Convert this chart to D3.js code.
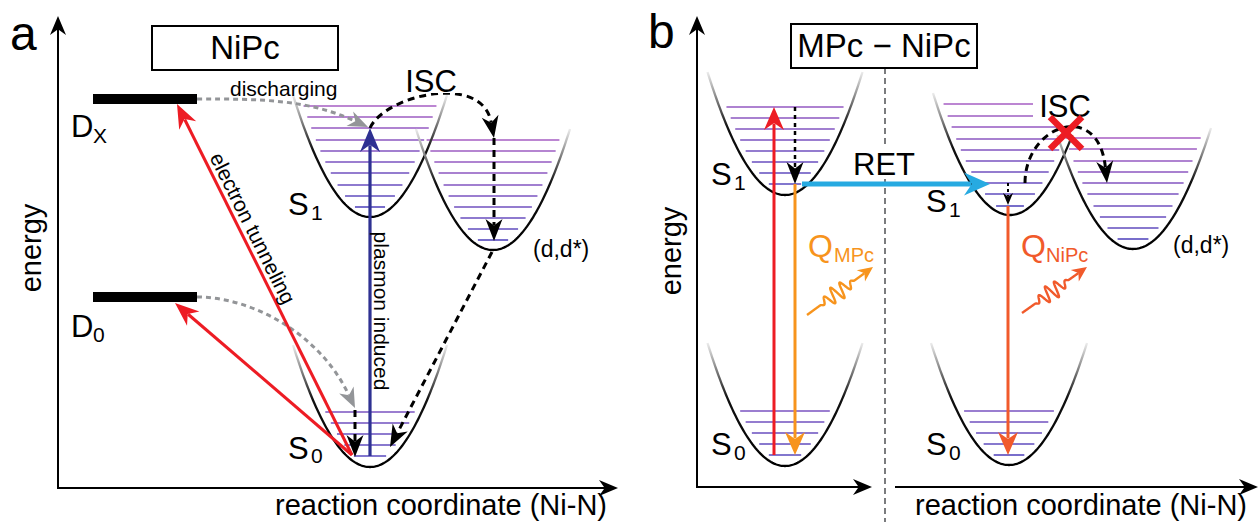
<!DOCTYPE html>
<html><head><meta charset="utf-8">
<script src="https://cdn.jsdelivr.net/npm/d3@7"></script>
<style>
html,body{margin:0;padding:0;background:#fff;}
svg{display:block;font-family:"Liberation Sans",Arial,sans-serif;}
</style></head><body>
<svg id="fig" width="1259" height="522"></svg>
<script>
// ---------- panel a : NiPc (reaction coordinate / energy in arbitrary units) ----------
const wellsA = [
  {name: "S1", cx: 31.2, e0: 27.1, eTop: 39.3, hw: 7.7},
  {name: "dd", cx: 43.5, e0: 23.8, eTop: 35.9, hw: 7.7},
  {name: "S0", cx: 31.2, e0: 2.1,  eTop: 14.3, hw: 7.7}
];
const levelsA_S1 = [38.2, 37.1, 36.0, 34.8, 33.7, 32.6, 31.5, 30.3, 29.2, 28.1];
const levelsA_dd = [34.8, 33.7, 32.6, 31.5, 30.3, 29.2, 28.1, 27.0, 25.9, 24.8];
const levelsA_S0 = [7.6, 6.5, 5.4, 4.3, 3.2];
const donorsA = [
  {name: "X", energy: 38.9, x0: 3.5, x1: 13.9},
  {name: "0", energy: 19.1, x0: 3.5, x1: 13.9}
];
const arrowsA = [
  {from: [29.4, 3.3],  to: [11.9, 38.4], kind: "tunnel"},
  {from: [29.4, 3.3],  to: [11.7, 18.5], kind: "tunnel"},
  {from: [31.2, 3.2],  to: [31.2, 36.0], kind: "plasmon"},
  {from: [29.7, 7.8],  to: [29.7, 3.1],  kind: "relax"},
  {from: [43.6, 35.0], to: [43.6, 24.7], kind: "relax"},
  {from: [43.4, 23.6], to: [33.2, 4.1],  kind: "relax"}
];
const curvesA = [
  {pts: [[13.9, 38.9], [20.2, 38.9], [26.2, 38.3], [31.0, 36.1]], kind: "discharge"},
  {pts: [[13.9, 19.1], [19.2, 19.1], [26.7, 14.3], [29.7, 8.0]],  kind: "discharge"},
  {pts: [[31.2, 36.0], [32.7, 39.3], [42.7, 40.0], [43.6, 35.0]], kind: "relax"}
];

// ---------- panel b : MPc - NiPc ----------
const wellsB = [
  {name: "S1m", cx: 8.8,  e0: 29.2, eTop: 41.5, hw: 7.75},
  {name: "S0m", cx: 8.8,  e0: 2.1,  eTop: 14.4, hw: 7.75},
  {name: "S1n", cx: 31.3, e0: 27.2, eTop: 39.4, hw: 7.7, rightTop: 35.2},
  {name: "ddn", cx: 43.6, e0: 23.8, eTop: 35.9, hw: 7.8, leftTop: 35.2},
  {name: "S0n", cx: 31.2, e0: 2.2,  eTop: 14.4, hw: 7.8}
];
const levelsB_S1m = [38.0, 36.9, 35.8, 34.7, 33.6, 32.5, 31.4, 30.3];
const levelsB_S0m = [7.6, 6.5, 5.4, 4.3, 3.2];
const levelsB_S1n = [38.3, 37.1, 36.0, 34.8, 33.7, 32.6, 31.5, 30.4, 29.3, 28.1];
const levelsB_ddn = [34.9, 33.8, 32.6, 31.5, 30.4, 29.3, 28.1, 27.0, 25.9, 24.8];
const levelsB_S0n = [7.6, 6.5, 5.4, 4.3, 3.2];
const arrowsB = [
  {from: [7.7, 3.2],   to: [7.7, 38.0],  kind: "absorb"},
  {from: [9.8, 38.0],  to: [9.8, 30.3],  kind: "vib"},
  {from: [9.8, 30.3],  to: [9.8, 3.2],   kind: "emitM"},
  {from: [10.5, 30.3], to: [29.3, 30.3], kind: "ret"},
  {from: [31.1, 30.4], to: [31.1, 28.2], kind: "vibSmall"},
  {from: [31.1, 28.1], to: [31.1, 3.2],  kind: "emitN"}
];
const curvesB = [
  {pts: [[32.8, 30.4], [32.8, 36.2], [40.3, 37.2], [41.0, 30.4]], kind: "relax"}
];
const wavesB = [
  {from: [11.0, 17.2], to: [17.6, 22.0], kind: "emitM"},
  {from: [32.5, 17.4], to: [39.0, 22.0], kind: "emitN"}
];
const blockedB = [{at: [36.9, 35.4], size: 1.6}];
const splitB = 18.8;      // reaction-coordinate position of the MPc | NiPc divider
const rightAxisB = 19.8;  // start of the NiPc reaction-coordinate axis

// ---------- styles ----------
const styles = {
  tunnel:    {color: "#ed1c24", width: 3,   head: [24, 9.5]},
  plasmon:   {color: "#2e3192", width: 3.2, head: [24, 10]},
  relax:     {color: "#000",    width: 3,   head: [22, 8.5], dash: "7,5"},
  discharge: {color: "#939598", width: 3,   head: [20, 8],   dash: "5,4"},
  absorb:    {color: "#ed1c24", width: 3,   head: [23, 10]},
  vib:       {color: "#000",    width: 2.5, head: [22, 8.5], dash: "4,4"},
  vibSmall:  {color: "#000",    width: 2,   head: [12, 5],   dash: "3,3"},
  emitM:     {color: "#f7941d", width: 3,   head: [23, 10]},
  emitN:     {color: "#f15a2b", width: 3,   head: [23, 10]},
  ret:       {color: "#27aae1", width: 5,   head: [26, 11.5]}
};
const levelColor = d3.interpolateRgb("#4f48bd", "#aa5fc3");

const svg = d3.select("#fig");
const defs = svg.append("defs");

// scales
const xA = d3.scaleLinear().domain([0, 56]).range([58, 618]);
const yA = d3.scaleLinear().domain([0, 47.2]).range([488, 16]);
const xB = d3.scaleLinear().domain([0, 56.1]).range([697, 1258]);
const yB = d3.scaleLinear().domain([0, 47.1]).range([487, 16]);

function head(g, tip, ang, len, hw, color) {
  const dx = Math.cos(ang), dy = Math.sin(ang), nx = -dy, ny = dx;
  const bx = tip[0] - len * dx, by = tip[1] - len * dy;
  const mx = tip[0] - len * 0.7 * dx, my = tip[1] - len * 0.7 * dy;
  g.append("path")
    .attr("d", `M${tip[0]},${tip[1]}L${bx + hw * nx},${by + hw * ny}L${mx},${my}L${bx - hw * nx},${by - hw * ny}Z`)
    .attr("fill", color);
}

function straightArrow(g, p0, p1, st) {
  const ang = Math.atan2(p1[1] - p0[1], p1[0] - p0[0]);
  const cut = st.head[0] * 0.72;
  const end = [p1[0] - cut * Math.cos(ang), p1[1] - cut * Math.sin(ang)];
  g.append("line").attr("x1", p0[0]).attr("y1", p0[1]).attr("x2", end[0]).attr("y2", end[1])
    .attr("stroke", st.color).attr("stroke-width", st.width)
    .attr("stroke-dasharray", st.dash || null);
  head(g, p1, ang, st.head[0], st.head[1], st.color);
}

function curveArrow(g, pts, st) {
  const [p0, c1, c2, p1] = pts;
  const ang = Math.atan2(p1[1] - c2[1], p1[0] - c2[0]);
  const cut = st.head[0] * 0.72, sx = cut * Math.cos(ang), sy = cut * Math.sin(ang);
  const p = d3.path();
  p.moveTo(p0[0], p0[1]);
  p.bezierCurveTo(c1[0], c1[1], c2[0] - sx, c2[1] - sy, p1[0] - sx, p1[1] - sy);
  g.append("path").attr("d", p.toString()).attr("fill", "none")
    .attr("stroke", st.color).attr("stroke-width", st.width)
    .attr("stroke-dasharray", st.dash || null);
  head(g, p1, ang, st.head[0], st.head[1], st.color);
}

function waveArrow(g, p0, p1, st) {
  const ang = Math.atan2(p1[1] - p0[1], p1[0] - p0[0]);
  const L = Math.hypot(p1[0] - p0[0], p1[1] - p0[1]);
  const hl = 15, body = L - hl * 0.7;
  const ux = Math.cos(ang), uy = Math.sin(ang), nx = -uy, ny = ux;
  const pts = d3.range(0, 1.0001, 0.004).map(t => {
    const s = t * body;
    const a0 = 0.20 * L, a1 = 0.72 * L;
    let off = 0;
    if (s > a0 && s < a1) {
      const u = (s - a0) / (a1 - a0);
      off = 8.5 * Math.sin(Math.PI * u) * Math.sin(2 * Math.PI * 4 * u);
    }
    return [p0[0] + s * ux + off * nx, p0[1] + s * uy + off * ny];
  });
  g.append("path").attr("d", d3.line()(pts)).attr("fill", "none")
    .attr("stroke", st.color).attr("stroke-width", 2.4).attr("stroke-linejoin", "round");
  head(g, p1, ang, hl, 7, st.color);
}

function wellCurve(g, w, x, y) {
  const id = "grad-" + w.name;
  const gr = defs.append("linearGradient").attr("id", id)
    .attr("gradientUnits", "userSpaceOnUse")
    .attr("x1", 0).attr("x2", 0).attr("y1", y(w.eTop)).attr("y2", y(w.e0));
  gr.append("stop").attr("offset", 0).attr("stop-color", "#ececec");
  gr.append("stop").attr("offset", 0.45).attr("stop-color", "#111");
  gr.append("stop").attr("offset", 1).attr("stop-color", "#000");
  const depth = w.eTop - w.e0;
  const lim = e => w.hw * Math.sqrt((Math.min(e, w.eTop) - w.e0) / depth);
  const xl = w.cx - lim(w.leftTop || w.eTop), xr = w.cx + lim(w.rightTop || w.eTop);
  const pts = d3.range(0, 1.0001, 0.01).map(t => {
    const xv = xl + (xr - xl) * t;
    const r = (xv - w.cx) / w.hw;
    return [xv, w.e0 + depth * r * r];
  });
  g.append("path").attr("d", d3.line().x(d => x(d[0])).y(d => y(d[1]))(pts))
    .attr("fill", "none").attr("stroke", `url(#${id})`).attr("stroke-width", 2.3);
}

function wellLevels(g, w, levels, x, y) {
  const depth = w.eTop - w.e0;
  g.selectAll(null).data(levels).enter().append("line")
    .attr("x1", e => x(w.cx - w.hw * Math.sqrt((e - w.e0) / depth) + 0.7))
    .attr("x2", e => x(w.cx + w.hw * Math.sqrt((e - w.e0) / depth) - 0.7))
    .attr("y1", e => y(e)).attr("y2", e => y(e))
    .attr("stroke", e => levelColor(Math.min(1, (e - w.e0) / depth * 1.05)))
    .attr("stroke-width", 1.6);
}

function txt(g, s, x, y, size, opts = {}) {
  return g.append("text").attr("x", x).attr("y", y).attr("font-size", size)
    .attr("fill", opts.color || "#000").attr("text-anchor", opts.anchor || "start").text(s);
}

function axisArrow(g, p0, p1) {
  const ang = Math.atan2(p1[1] - p0[1], p1[0] - p0[0]);
  const end = [p1[0] - 12 * Math.cos(ang), p1[1] - 12 * Math.sin(ang)];
  g.append("line").attr("x1", p0[0]).attr("y1", p0[1]).attr("x2", end[0]).attr("y2", end[1])
    .attr("stroke", "#000").attr("stroke-width", 2);
  head(g, p1, ang, 19, 8, "#000");
}

// ================= panel a =================
const gA = svg.append("g");
txt(gA, "a", 10, 50, 48);
axisArrow(gA, [xA(0), yA(0) + 1], [xA(0), yA(47.2)]);
axisArrow(gA, [xA(0) - 1, yA(0)], [xA(56), yA(0)]);
gA.append("text").attr("transform", `translate(41,${yA(24)}) rotate(-90)`)
  .attr("text-anchor", "middle").attr("font-size", 29).text("energy");
txt(gA, "reaction coordinate (Ni-N)", 275, 515, 29);

gA.append("rect").attr("x", 152).attr("y", 26).attr("width", 186).attr("height", 44)
  .attr("fill", "#fff").attr("stroke", "#000").attr("stroke-width", 2);
txt(gA, "NiPc", 245, 59, 33, {anchor: "middle"});

const lvA = {S1: levelsA_S1, dd: levelsA_dd, S0: levelsA_S0};
wellsA.forEach(w => wellLevels(gA, w, lvA[w.name], xA, yA));
wellsA.forEach(w => wellCurve(gA, w, xA, yA));

gA.selectAll(null).data(donorsA).enter().append("rect")
  .attr("x", d => xA(d.x0)).attr("width", d => xA(d.x1) - xA(d.x0))
  .attr("y", d => yA(d.energy) - 5).attr("height", 10).attr("fill", "#000");

curvesA.forEach(c => curveArrow(gA, c.pts.map(p => [xA(p[0]), yA(p[1])]), styles[c.kind]));
arrowsA.forEach(a => straightArrow(gA, [xA(a.from[0]), yA(a.from[1])], [xA(a.to[0]), yA(a.to[1])], styles[a.kind]));

// labels along arrows
{
  const t = arrowsA[0];
  const p0 = [xA(t.to[0]), yA(t.to[1])], p1 = [xA(t.from[0]), yA(t.from[1])];
  const ang = Math.atan2(p1[1] - p0[1], p1[0] - p0[0]);
  const px = p0[0] + 145 * Math.cos(ang), py = p0[1] + 145 * Math.sin(ang);
  gA.append("text").attr("transform", `translate(${px},${py}) rotate(${ang * 180 / Math.PI})`)
    .attr("y", -5).attr("text-anchor", "middle").attr("font-size", 21).text("electron tunneling");
  const b = arrowsA[2];
  gA.append("text").attr("transform", `translate(${xA(b.from[0])},311) rotate(90)`)
    .attr("y", -4).attr("text-anchor", "middle").attr("font-size", 21).text("plasmon induced");
}
txt(gA, "discharging", 230, 96, 21);
gA.append("rect").attr("x", 400).attr("y", 68).attr("width", 65).attr("height", 25).attr("fill", "#fff");
txt(gA, "ISC", 431, 92, 31, {anchor: "middle"});
txt(gA, "D", 71, 137, 31); txt(gA, "X", 93, 143, 21);
txt(gA, "D", 71, 337, 31); txt(gA, "0", 93, 342, 21);
txt(gA, "S", 288, 215, 31); txt(gA, "1", 311, 220, 21);
txt(gA, "S", 288, 459, 31); txt(gA, "0", 311, 463, 21);
txt(gA, "(d,d*)", 533, 257, 23);

// ================= panel b =================
const gB = svg.append("g");
txt(gB, "b", 648, 48, 48);
axisArrow(gB, [xB(0), yB(0) + 1], [xB(0), yB(47.1)]);
axisArrow(gB, [xB(0) - 1, yB(0)], [xB(17.5), yB(0)]);
axisArrow(gB, [xB(rightAxisB), yB(0)], [xB(56.1), yB(0)]);
gB.append("line").attr("x1", xB(splitB)).attr("x2", xB(splitB)).attr("y1", 68).attr("y2", 522)
  .attr("stroke", "#6d6e71").attr("stroke-width", 1.8).attr("stroke-dasharray", "6,4");
gB.append("text").attr("transform", `translate(681,${yB(23.6)}) rotate(-90)`)
  .attr("text-anchor", "middle").attr("font-size", 29).text("energy");
txt(gB, "reaction coordinate (Ni-N)", 915, 515, 29);

gB.append("rect").attr("x", 791).attr("y", 24).attr("width", 186).attr("height", 44)
  .attr("fill", "#fff").attr("stroke", "#000").attr("stroke-width", 2);
txt(gB, "MPc \u2212 NiPc", 884, 57, 33, {anchor: "middle"});

const lvB = {S1m: levelsB_S1m, S0m: levelsB_S0m, S1n: levelsB_S1n, ddn: levelsB_ddn, S0n: levelsB_S0n};
wellsB.forEach(w => wellLevels(gB, w, lvB[w.name], xB, yB));
wellsB.forEach(w => wellCurve(gB, w, xB, yB));

gB.append("rect").attr("x", 847).attr("y", 148).attr("width", 73).attr("height", 31).attr("fill", "#fff");
txt(gB, "RET", 884, 175, 31, {anchor: "middle"});
gB.append("rect").attr("x", 1033).attr("y", 93).attr("width", 64).attr("height", 25).attr("fill", "#fff");
txt(gB, "ISC", 1065, 117, 31, {anchor: "middle"});

curvesB.forEach(c => curveArrow(gB, c.pts.map(p => [xB(p[0]), yB(p[1])]), styles[c.kind]));
arrowsB.forEach(a => straightArrow(gB, [xB(a.from[0]), yB(a.from[1])], [xB(a.to[0]), yB(a.to[1])], styles[a.kind]));
wavesB.forEach(wv => waveArrow(gB, [xB(wv.from[0]), yB(wv.from[1])], [xB(wv.to[0]), yB(wv.to[1])], styles[wv.kind]));

blockedB.forEach(bk => {
  const cx = xB(bk.at[0]), cy = yB(bk.at[1]), h = xB(bk.size) - xB(0);
  [[-1, -1, 1, 1], [-1, 1, 1, -1]].forEach(s => gB.append("line")
    .attr("x1", cx + s[0] * h).attr("y1", cy + s[1] * h).attr("x2", cx + s[2] * h).attr("y2", cy + s[3] * h)
    .attr("stroke", "#ed1c24").attr("stroke-width", 6.5));
});

txt(gB, "S", 711, 185, 31); txt(gB, "1", 734, 190, 21);
txt(gB, "S", 711, 455, 31); txt(gB, "0", 734, 460, 21);
txt(gB, "S", 926, 212, 31); txt(gB, "1", 949, 217, 21);
txt(gB, "S", 926, 455, 31); txt(gB, "0", 949, 460, 21);
txt(gB, "(d,d*)", 1173, 253, 23);
txt(gB, "Q", 808, 257, 32, {color: styles.emitM.color});
txt(gB, "MPc", 834, 262, 20, {color: styles.emitM.color});
txt(gB, "Q", 1021, 257, 32, {color: styles.emitN.color});
txt(gB, "NiPc", 1046, 262, 20, {color: styles.emitN.color});
</script>
</body></html>
